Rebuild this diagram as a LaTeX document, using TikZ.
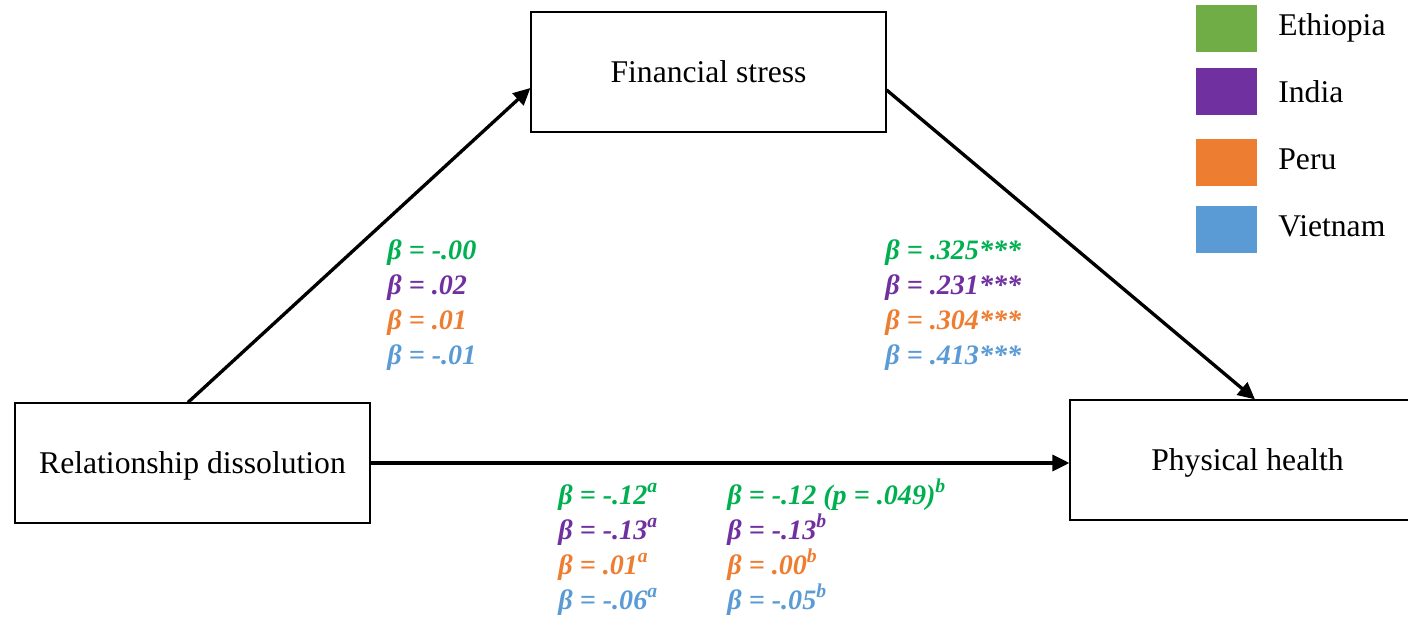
\documentclass[tikz,border=0pt]{standalone}
\usepackage{fontspec}
\setmainfont{Liberation Serif}
\usetikzlibrary{arrows.meta}
\definecolor{ethgreen}{HTML}{00B050}
\definecolor{ethbox}{HTML}{70AD47}
\definecolor{indpurple}{HTML}{7030A0}
\definecolor{perorange}{HTML}{ED7D31}
\definecolor{vnblue}{HTML}{5B9BD5}
\tikzstyle{var}=[draw=black, line width=.7pt, minimum width=7.1cm, minimum height=2.4cm, text depth=0pt, font=\fontsize{18}{22}\selectfont]
\tikzstyle{effect}=[line width=1.9pt, -{Triangle[length=.34cm, width=.32cm]}]
\tikzstyle{coef}=[anchor=base west, inner sep=0pt, font=\fontsize{16}{19}\selectfont\bfseries\itshape]
\tikzstyle{swatch}=[minimum width=1.22cm, minimum height=.94cm, inner sep=0pt]
\tikzstyle{country}=[anchor=base west, inner sep=0pt, font=\fontsize{18}{22}\selectfont]

\begin{document}
\begin{tikzpicture}[x=.02cm, y=-.02cm]
    \useasboundingbox (0,0) rectangle (1408,617);

    \node[var] (rd) at (192.5,463) {Relationship dissolution};
    \node[var] (fs) at (708.5,72) {Financial stress};
    \node[var] (ph) at (1247.5,460) {Physical health};

    \draw[effect] ([xshift=-.09cm]rd.north) -- ([yshift=-.32cm]fs.west);
    \draw[effect] ([yshift=-.36cm]fs.east) -- ([xshift=.15cm]ph.north);
    \draw[effect] (rd.east) -- (rd.east -| ph.west);

    % a path
    \foreach \i/\c/\t in {1/ethgreen/-.00, 2/indpurple/.02, 3/perorange/.01, 4/vnblue/-.01}
      \node[coef, text=\c] (a\i) at (387,225+35*\i) {β = \t};

    % b path
    \foreach \i/\c/\t in {1/ethgreen/.325***, 2/indpurple/.231***, 3/perorange/.304***, 4/vnblue/.413***}
      \node[coef, text=\c] (b\i) at (885,225+35*\i) {β = \t};

    % total and direct effects
    \foreach \i/\c/\t in {1/ethgreen/-.12, 2/indpurple/-.13, 3/perorange/.01, 4/vnblue/-.06}
      \node[coef, text=\c] (tot\i) at (558,469+35*\i) {β = \t\textsuperscript{a}};
    \foreach \i/\c/\t in {1/ethgreen/-.12 (p = .049), 2/indpurple/-.13, 3/perorange/.00, 4/vnblue/-.05}
      \node[coef, text=\c] (dir\i) at (727,469+35*\i) {β = \t\textsuperscript{b}};

    % legend
    \foreach \i/\c/\t/\y/\b in {1/ethbox/Ethiopia/28.5/36, 2/indpurple/India/91.5/103, 3/perorange/Peru/162.5/170, 4/vnblue/Vietnam/229.5/237} {
      \node[swatch, fill=\c] (sw\i) at (1226.5,\y) {};
      \node[country] (lg\i) at (1278,\b) {\t};
    }
  \end{tikzpicture}
\end{document}
